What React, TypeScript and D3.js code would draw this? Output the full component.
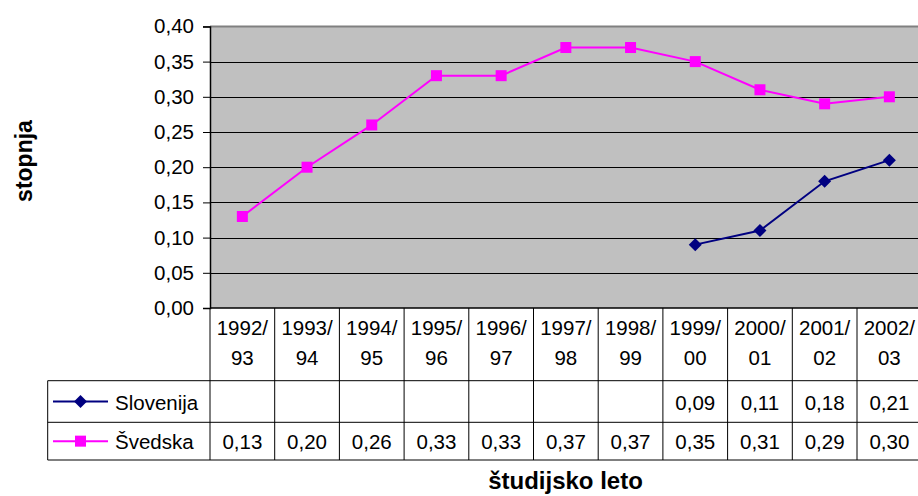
import { useEffect, useRef } from "react";
import * as d3 from "d3";

const years = ["1992/93", "1993/94", "1994/95", "1995/96", "1996/97", "1997/98", "1998/99", "1999/00", "2000/01", "2001/02", "2002/03"];
const slovenija: (number | null)[] = [null, null, null, null, null, null, null, 0.09, 0.11, 0.18, 0.21];
const svedska: (number | null)[] = [0.13, 0.2, 0.26, 0.33, 0.33, 0.37, 0.37, 0.35, 0.31, 0.29, 0.3];
const yTicks = [0, 0.05, 0.1, 0.15, 0.2, 0.25, 0.3, 0.35, 0.4];

const W = 918;
const H = 496;
const FONT = "'Liberation Sans', Arial, sans-serif";
const FS = 20.5;

const App = () => {
  const svgRef = useRef<SVGSVGElement | null>(null);

  useEffect(() => {
    if (!svgRef.current) return;
    const svg = d3.select(svgRef.current);
    svg.selectAll("*").remove();

    const left = 210;
    const colW = 64.7;
    const right = left + colW * years.length;
    const top = 26.4;
    const bottom = 308;

    const x = d3.scaleBand<string>().domain(years).range([left, right]);
    const y = d3.scaleLinear().domain([0, 0.4]).range([bottom, top]);

    // plot background
    svg.append("rect")
      .attr("x", left).attr("y", top)
      .attr("width", right - left).attr("height", bottom - top)
      .attr("fill", "#c0c0c0");
    svg.append("line")
      .attr("x1", left).attr("x2", right)
      .attr("y1", top).attr("y2", top)
      .attr("stroke", "#808080").attr("stroke-width", 2);

    // gridlines
    svg.append("g").selectAll("line")
      .data(yTicks.filter((t) => t > 0 && t < 0.4))
      .join("line")
      .attr("x1", left).attr("x2", right)
      .attr("y1", (d) => Math.round(y(d)) + 0.5).attr("y2", (d) => Math.round(y(d)) + 0.5)
      .attr("stroke", "#000").attr("stroke-width", 1);

    // y axis
    const yAxis = d3.axisLeft(y)
      .tickValues(yTicks)
      .tickSize(7)
      .tickFormat((d) => d3.format(".2f")(d as number).replace(".", ","));
    const ga = svg.append("g").attr("transform", `translate(${left},0)`).call(yAxis);
    ga.select(".domain").attr("stroke", "#000").attr("stroke-width", 1.5);
    ga.selectAll(".tick line").attr("stroke", "#000");
    ga.selectAll(".tick text")
      .attr("font-family", FONT).attr("font-size", FS).attr("fill", "#000").attr("x", -16);

    // x axis baseline
    svg.append("line")
      .attr("x1", left).attr("x2", right)
      .attr("y1", bottom).attr("y2", bottom)
      .attr("stroke", "#000").attr("stroke-width", 1.5);

    // data table
    const tableLeft = 47.7;
    const r1 = 380.7;
    const r2 = 422.3;
    const r3 = 460;
    const tbl = svg.append("g").attr("stroke", "#000").attr("stroke-width", 1);
    [r1, r2, r3].forEach((ry) => {
      tbl.append("line").attr("x1", tableLeft).attr("x2", right).attr("y1", ry).attr("y2", ry);
    });
    tbl.append("line").attr("x1", tableLeft).attr("x2", tableLeft).attr("y1", r1).attr("y2", r3);
    tbl.selectAll("line.col")
      .data(years)
      .join("line")
      .attr("class", "col")
      .attr("x1", (d) => x(d)!).attr("x2", (d) => x(d)!)
      .attr("y1", bottom).attr("y2", r3);
    tbl.append("line").attr("x1", right).attr("x2", right).attr("y1", bottom).attr("y2", r3);

    // category labels (two lines)
    const cat = svg.append("g").attr("font-family", FONT).attr("font-size", FS).attr("text-anchor", "middle");
    years.forEach((yr) => {
      const [a, b] = yr.split("/");
      const cx = x(yr)! + x.bandwidth() / 2;
      cat.append("text").attr("x", cx).attr("y", 335).text(a + "/");
      cat.append("text").attr("x", cx).attr("y", 365).text(b);
    });

    const fmt = (v: number) => d3.format(".2f")(v).replace(".", ",");
    const series = [
      { name: "Slovenija", data: slovenija, color: "#000080", marker: "diamond", row: (r1 + r2) / 2 },
      { name: "Švedska", data: svedska, color: "#ff00ff", marker: "square", row: (r2 + r3) / 2 },
    ];

    const drawMarker = (g: d3.Selection<SVGGElement, unknown, null, undefined>, kind: string, cx: number, cy: number, color: string) => {
      if (kind === "square") {
        g.append("rect").attr("x", cx - 5.5).attr("y", cy - 5.5).attr("width", 11).attr("height", 11).attr("fill", color);
      } else {
        g.append("path")
          .attr("d", `M${cx},${cy - 6.5}L${cx + 6.5},${cy}L${cx},${cy + 6.5}L${cx - 6.5},${cy}Z`)
          .attr("fill", color);
      }
    };

    series.forEach((s) => {
      const pts = years.map((yr, i) => ({ yr, v: s.data[i] })).filter((p) => p.v !== null) as { yr: string; v: number }[];
      const line = d3.line<{ yr: string; v: number }>()
        .x((d) => x(d.yr)! + x.bandwidth() / 2)
        .y((d) => y(d.v));
      const g = svg.append("g");
      g.append("path").datum(pts).attr("d", line).attr("fill", "none").attr("stroke", s.color).attr("stroke-width", 2);
      pts.forEach((p) => drawMarker(g, s.marker, x(p.yr)! + x.bandwidth() / 2, y(p.v), s.color));

      // legend key in table
      const lg = svg.append("g");
      lg.append("line").attr("x1", 53).attr("x2", 108).attr("y1", s.row).attr("y2", s.row)
        .attr("stroke", s.color).attr("stroke-width", 2);
      drawMarker(lg, s.marker, 80.5, s.row, s.color);
      lg.append("text").attr("x", 115).attr("y", s.row + 8)
        .attr("font-family", FONT).attr("font-size", FS).text(s.name);

      // values
      svg.append("g").attr("font-family", FONT).attr("font-size", FS).attr("text-anchor", "middle")
        .selectAll("text")
        .data(pts)
        .join("text")
        .attr("x", (d) => x(d.yr)! + x.bandwidth() / 2)
        .attr("y", s.row + 8)
        .text((d) => fmt(d.v));
    });

    // axis titles
    svg.append("text")
      .attr("transform", `translate(32,161) rotate(-90)`)
      .attr("text-anchor", "middle")
      .attr("font-family", FONT).attr("font-size", 23).attr("font-weight", "bold")
      .text("stopnja");
    svg.append("text")
      .attr("x", 565.5).attr("y", 489)
      .attr("text-anchor", "middle")
      .attr("font-family", FONT).attr("font-size", 24).attr("font-weight", "bold")
      .text("študijsko leto");
  }, []);

  return (
    <svg
      ref={svgRef}
      width={W}
      height={H}
      style={{ position: "absolute", left: 0, top: 0, background: "#fff" }}
    />
  );
};

export default App;
